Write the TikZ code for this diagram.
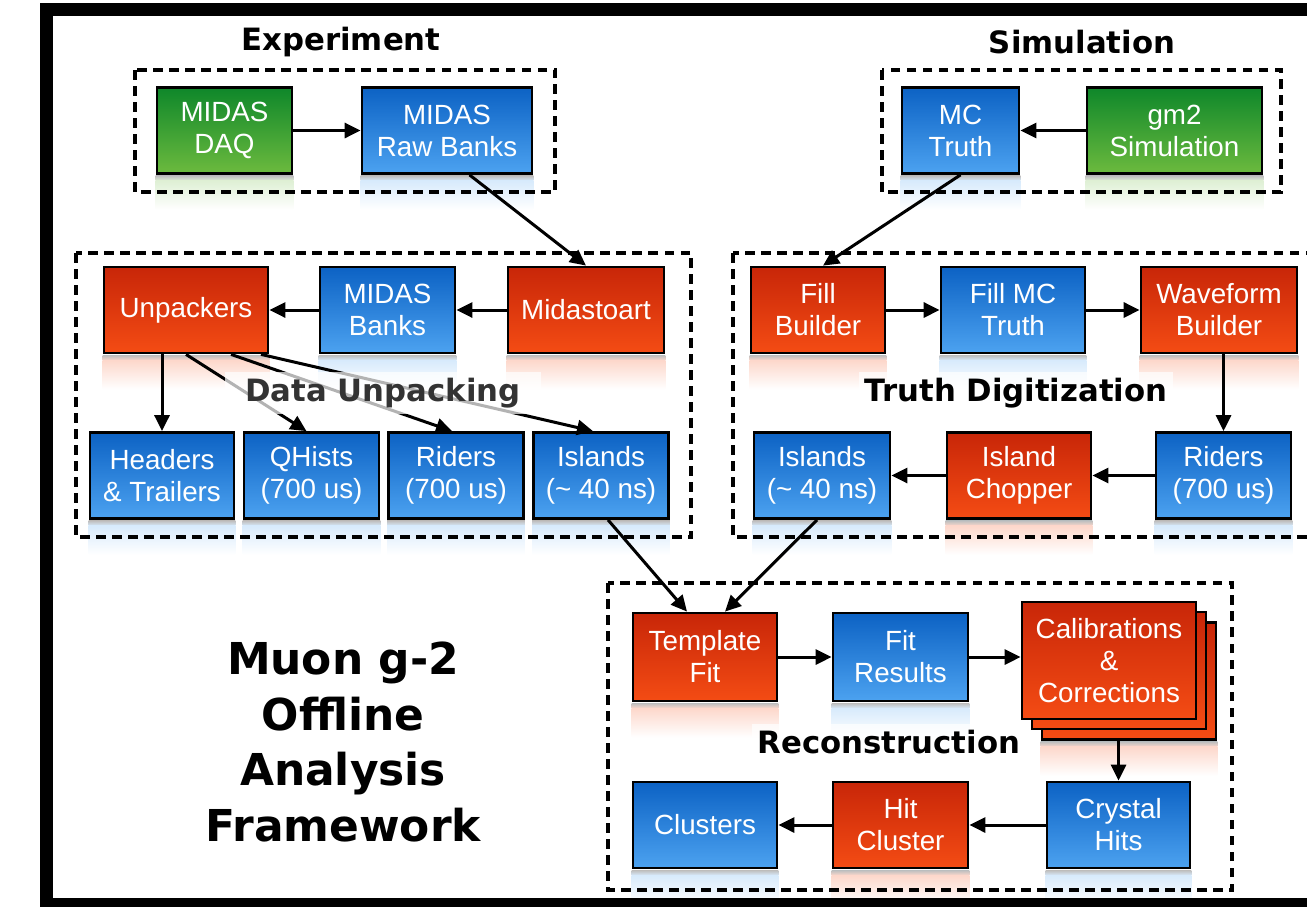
\documentclass[tikz,border=0pt]{standalone}
\usepackage{fontspec}
\setmainfont{Liberation Sans}
\newfontfamily\headfont{DejaVu Sans}
\usetikzlibrary{
  positioning,
  arrows.meta,
  backgrounds
}
\definecolor{grnTop}{RGB}{14,135,42}
\definecolor{grnBot}{RGB}{108,186,62}
\definecolor{bluTop}{RGB}{12,98,196}
\definecolor{bluBot}{RGB}{76,162,240}
\definecolor{redTop}{RGB}{200,38,8}
\definecolor{redBot}{RGB}{244,76,20}
\newcommand{\boxfont}{\fontsize{15.8}{18.2}\selectfont}
\newcommand{\headsize}{\headfont\bfseries\fontsize{17.5}{20}\selectfont}

\begin{document}
\begin{tikzpicture}[
    x=0.2mm, y=-0.2mm, >={Triangle[length=3.2mm,width=3mm]}, font=\boxfont,
    box/.style={
      draw=black,
      line width=0.55mm,
      minimum width=27mm,
      minimum height=17.2mm,
      inner sep=0pt,
      align=center,
      text=white
    },
    gbox/.style={box, top color=grnTop, bottom color=grnBot},
    bbox/.style={box, top color=bluTop, bottom color=bluBot},
    rbox/.style={box, top color=redTop, bottom color=redBot},
    group/.style={
      draw=black,
      line width=0.8mm,
      dash pattern=on 1.9mm off 1.3mm
    },
    head/.style={font=\headsize, align=center},
    conn/.style={->, line width=0.6mm}
  ]

  \useasboundingbox (0,0) rectangle (1307,906);
  \clip (0,0) rectangle (1307,906);

  % frame
  \draw[line width=2.6mm] (46.5,9.5) rectangle (1340,904.5);

  % Experiment
  \node[head] (expLbl) at (341,42) {Experiment};
  \draw[group] (135,70) rectangle (555,192);
  \node[gbox] (daq) at (224.5,130.5) {MIDAS\\DAQ};
  \node[bbox, minimum width=34mm] (raw) at (447,130.5) {MIDAS\\Raw Banks};
  \draw[conn] (daq) -- (raw);

  % Simulation
  \node[head] (simLbl) at (1082,42) {Simulation};
  \draw[group] (882,70) rectangle (1281,192);
  \node[bbox, minimum width=23.4mm] (mctruth) at (960.5,130.5) {MC\\Truth};
  \node[gbox, minimum width=35mm] (gm2) at (1174.5,130.5) {gm2\\Simulation};
  \draw[conn] (gm2) -- (mctruth);

  % Data Unpacking
  \draw[group] (76,253) rectangle (691,537);
  \node[rbox, minimum width=32.8mm] (unpack) at (186,310) {Unpackers};
  \node[bbox] (mbanks) at (387.5,310) {MIDAS\\Banks};
  \node[rbox, minimum width=31.2mm] (mida) at (586,310) {Midastoart};
  \node[bbox, minimum width=28.8mm] (headers) at (162,475.5) {Headers\\\& Trailers};
  \node[bbox] (qhists) at (311.5,475.5) {QHists\\(700 us)};
  \node[bbox] (riders) at (456,475.5) {Riders\\(700 us)};
  \node[bbox] (islands) at (601,475.5) {Islands\\(\textasciitilde{} 40 ns)};
  \draw[conn] (mida) -- (mbanks);
  \draw[conn] (mbanks) -- (unpack);
  \draw[conn] (unpack.south -| headers.north) -- (headers.north);
  \draw[conn] (unpack.south) -- ([xshift=-1mm]qhists.north);
  \draw[conn] ([xshift=9mm]unpack.south) -- ([xshift=-0.8mm]riders.north);
  \draw[conn] ([xshift=15mm]unpack.south) -- ([xshift=-1.6mm]islands.north);
  \node[head, fill=white, fill opacity=0.7, text opacity=1, text=black!80,
    inner xsep=4mm] (unpLbl) at (383,393) {Data Unpacking};

  % Truth Digitization
  \draw[group] (733,253) rectangle (1340,537);
  \node[rbox, minimum width=26.8mm] (fill) at (818,310) {Fill\\Builder};
  \node[bbox, minimum width=28.8mm] (fillmc) at (1013,310) {Fill MC\\Truth};
  \node[rbox, minimum width=31.2mm] (wave) at (1219,310) {Waveform\\Builder};
  \node[bbox, minimum width=27.2mm] (tislands) at (822,475.5) {Islands\\(\textasciitilde{} 40 ns)};
  \node[rbox, minimum width=28.8mm] (chopper) at (1019,475.5) {Island\\Chopper};
  \node[bbox] (triders) at (1223.5,475.5) {Riders\\(700 us)};
  \draw[conn] (fill) -- (fillmc);
  \draw[conn] (fillmc) -- (wave);
  \draw[conn] (wave.south -| triders.north) -- (triders.north);
  \draw[conn] (triders) -- (chopper);
  \draw[conn] (chopper) -- (tislands);
  \node[head, fill=white, fill opacity=0.7, text opacity=1] (truthLbl) at (1016,393) {Truth Digitization};

  % Reconstruction
  \draw[group] (608,583) rectangle (1232,890);
  \node[rbox, minimum width=28.8mm, minimum height=17.6mm] (template) at (705,657) {Template\\Fit};
  \node[bbox, minimum height=17.6mm] (fitres) at (900.5,657) {Fit\\Results};
  \node[rbox, minimum width=34.8mm, minimum height=23.4mm] (calibC) at (1129,681) {};
  \node[rbox, minimum width=34.8mm, minimum height=23.4mm] (calibB) at (1119,670.5) {};
  \node[rbox, minimum width=34.8mm, minimum height=23.4mm] (calib) at (1109,660.5) {Calibrations\\\&\\Corrections};
  \node[bbox, minimum width=28.6mm] (crystal) at (1118.5,825) {Crystal\\Hits};
  \node[rbox] (hitcl) at (900.5,825) {Hit\\Cluster};
  \node[bbox, minimum width=28.8mm] (clusters) at (705,825) {Clusters};
  \draw[conn] (template) -- (fitres);
  \draw[conn] (fitres.east) -- (fitres.east -| calib.west);
  \draw[conn] (crystal.north |- calibC.south) -- (crystal.north);
  \draw[conn] (crystal) -- (hitcl);
  \draw[conn] (hitcl) -- (clusters);
  \node[head, fill=white, fill opacity=0.7, text opacity=1] (recoLbl) at (889,742) {Reconstruction};

  % links between groups
  \draw[conn] ([xshift=4.5mm]raw.south) -- (mida.north);
  \draw[conn] (mctruth.south) -- ([xshift=1mm]fill.north);
  \draw[conn] ([xshift=1.4mm]islands.south) -- ([xshift=-3.6mm]template.north);
  \draw[conn] ([xshift=-1mm]tislands.south) -- ([xshift=4mm]template.north);

  % Title
  \node[font=\headfont\bfseries\fontsize{25}{31.7}\selectfont, align=center]
    (mainLbl) at (343,742) {Muon g-2\\Offline\\Analysis\\Framework};

  % reflections
  \begin{scope}[on background layer]
    \foreach \n/\c in {daq/grnBot, raw/bluBot, mctruth/bluBot, gm2/grnBot,
        unpack/redBot, mbanks/bluBot, mida/redBot, headers/bluBot, qhists/bluBot,
        riders/bluBot, islands/bluBot, fill/redBot, fillmc/bluBot, wave/redBot,
        tislands/bluBot, chopper/redBot, triders/bluBot, template/redBot,
        fitres/bluBot, calibC/redBot, crystal/bluBot, hitcl/redBot, clusters/bluBot}
    {
      \shade[top color=black!25, bottom color=\c!22]
        ([yshift=-0.2mm]\n.south west) rectangle ([yshift=-1.2mm]\n.south east);
      \shade[top color=\c!22, bottom color=white]
        ([yshift=-1.2mm]\n.south west) rectangle ([yshift=-7mm]\n.south east);
    }
  \end{scope}

\end{tikzpicture}
\end{document}
